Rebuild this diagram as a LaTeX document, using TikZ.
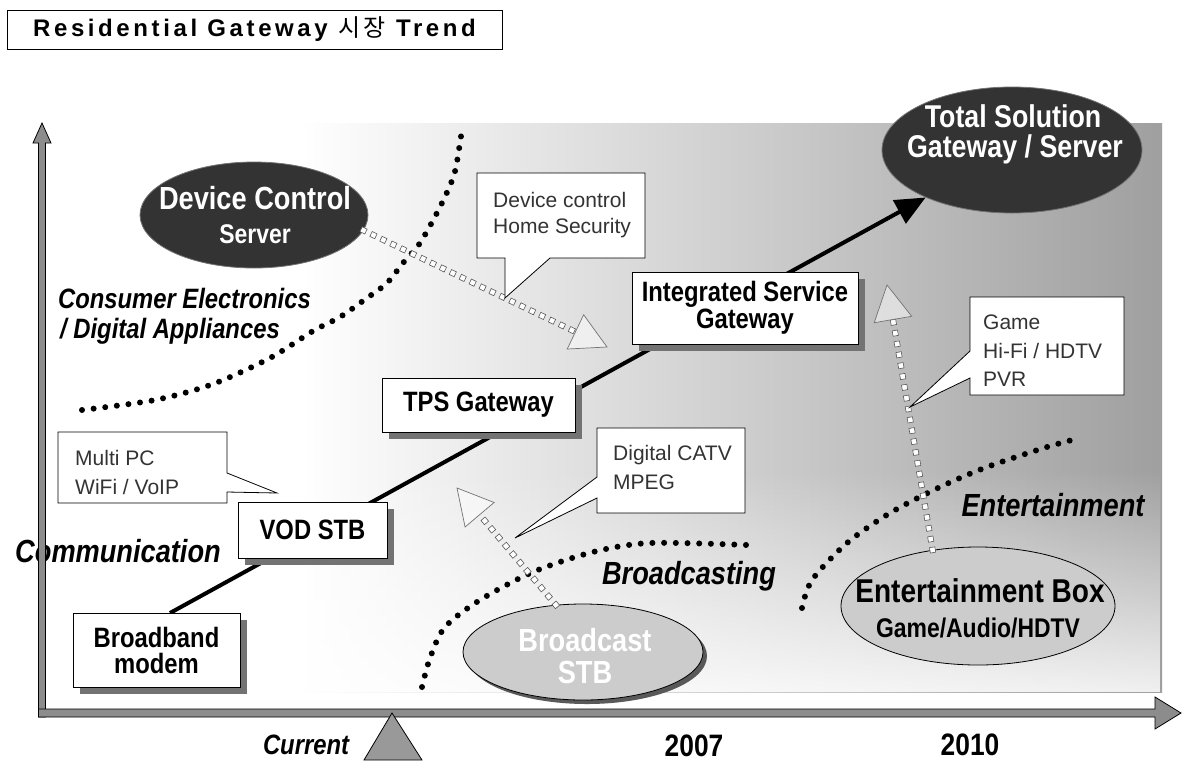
\documentclass[tikz,border=0pt]{standalone}
\usepackage{fontspec}
\setmainfont{Liberation Sans}
\newfontfamily\cond[FakeStretch=0.85]{Liberation Sans}
\newfontfamily\ttlfont[LetterSpace=15]{Liberation Sans}
\newfontfamily\krfont[LetterSpace=15]{Noto Sans CJK KR}
\usetikzlibrary{calc,shapes.geometric,arrows.meta,decorations.markings,shadows,fadings}
\tikzfading[name=fadeup, top color=transparent!100, bottom color=transparent!0]
\newcommand{\sqarrow}[2]{%
  \path (#1) coordinate (sqs) (#2) coordinate (sqt);
  \coordinate (sqb) at ($(sqt)!35pt!(sqs)$);
  \path[sqline] (sqs) -- (sqb);
  \draw[sqhead] (sqt) -- ($(sqb)!19pt!90:(sqt)$) -- ($(sqb)!19pt!-90:(sqt)$) -- cycle;
}
\begin{document}
\begin{tikzpicture}[x=1pt,y=-1pt,
  stagebox/.style={draw=black, line width=1pt, fill=white, inner sep=0pt, align=center,
    font={\cond\bfseries\fontsize{28}{27}\selectfont},
    drop shadow={shadow xshift=7pt, shadow yshift=-7pt, fill=black!55, opacity=1}},
  darkell/.style={ellipse, draw=black!55, line width=0.8pt, fill=black!80, inner sep=0pt},
  lightell/.style={ellipse, draw=black, line width=0.8pt, fill=black!20, inner sep=0pt},
  wtext/.style={text=white, inner sep=0pt, font={\cond\bfseries\fontsize{32}{34}\selectfont}},
  btext/.style={text=black, inner sep=0pt, font={\cond\bfseries\fontsize{32}{34}\selectfont}},
  lbl/.style={inner sep=0pt, font={\cond\bfseries\itshape\fontsize{32}{34}\selectfont}},
  yearlbl/.style={inner sep=0pt, font={\cond\bfseries\fontsize{31}{33}\selectfont}},
  dotline/.style={line width=6pt, line cap=round, dash pattern=on 0pt off 11.7pt, black},
  callout/.style={draw=black, line width=0.8pt, fill=white, line join=miter},
  ctext/.style={font={\fontsize{21}{27.5}\selectfont}, text=black!80, align=left, inner sep=0pt, anchor=west},
  sqline/.style={postaction={decorate}, decoration={markings,
     mark=between positions 0 and 1 step 11pt with {\draw[black!65, fill=white, line width=0.6pt] (-2.7pt,-2.7pt) rectangle (2.7pt,2.7pt);}}},
  sqhead/.style={draw=black!55, fill=white, fill opacity=0.5, line width=0.7pt},
  axis/.style={fill=black!45, draw=black, line width=0.8pt, line join=miter}
]
\useasboundingbox (0,0) rectangle (1183,764);
\fill[white] (0,0) rectangle (1183,764);

% textured background (approximated by shading)
\shade[left color=white, right color=gray!75] (300,123) rectangle (1162,692);
\fill[white, path fading=fadeup, opacity=0.85] (300,470) rectangle (1162,692);

% title
\node[draw, line width=0.8pt, minimum width=495pt, minimum height=39pt, inner sep=0pt,
      font={\ttlfont\bfseries\fontsize{24}{26}\selectfont}] (title) at (254.5,29.5)
      {Residential Gateway {\krfont\mdseries 시장} Trend};

% dotted boundaries
\draw[dotline] plot[smooth] coordinates {(82,410) (155,400) (213,384) (270,358) (313,331) (340,317) (367,298) (387,283) (403,263) (420,243) (440,207) (454,175) (460,143) (462,128)};
\draw[dotline] plot[smooth] coordinates {(422,687) (430,658) (445,627) (480,600) (533,572) (593,552) (650,543) (747,545)};
\draw[dotline] plot[smooth] coordinates {(802,608) (812,580) (847,543) (890,513) (940,487) (987,467) (1047,447) (1080,438)};

% region labels
\node[lbl, anchor=west, font={\cond\bfseries\itshape\fontsize{28}{30}\selectfont}] (ce) at (58,298) {Consumer Electronics};
\node[lbl, anchor=west, font={\cond\bfseries\itshape\fontsize{28}{30}\selectfont}] (da) at (60,331) {/ Digital Appliances};
\node[lbl] (comm) at (118,551) {Communication};
\node[lbl] (bcast) at (689,576) {Broadcasting};
\node[lbl] (ent) at (1053,505) {Entertainment};

% axes
\path[axis] (38.5,717) -- (38.5,143) -- (33,143) -- (42,123) -- (51,143) -- (45.5,143) -- (45.5,717) -- cycle;
\path[axis] (38.5,709) -- (1155,709) -- (1155,697) -- (1181,713) -- (1155,729) -- (1155,717) -- (38.5,717) -- cycle;
\filldraw[fill=black!40, draw=black, line width=0.8pt] (392,713) -- (422,760) -- (364,760) -- cycle;
\node[lbl, font={\cond\bfseries\itshape\fontsize{28}{30}\selectfont}] (cur) at (306,745) {Current};
\node[yearlbl] (y2007) at (694,746) {2007};
\node[yearlbl] (y2010) at (970,745) {2010};

% ellipses
\node[darkell, minimum width=228pt, minimum height=106pt] (DCS) at (254,215) {};
\node[wtext] (DCSa) at (255,198) {Device Control};
\node[wtext, font={\cond\bfseries\fontsize{27}{29}\selectfont}] (DCSb) at (255,234) {Server};

\node[darkell, minimum width=260pt, minimum height=126pt] (TSG) at (1012,150) {};
\node[wtext, font={\cond\bfseries\fontsize{31.5}{33}\selectfont}] (TSGa) at (1013,116) {Total Solution};
\node[wtext, font={\cond\bfseries\fontsize{31.5}{33}\selectfont}] (TSGb) at (1015,149) {Gateway / Server};

\node[lightell, minimum width=240pt, minimum height=96pt,
      drop shadow={shadow xshift=4pt, shadow yshift=-4pt, fill=black!65, opacity=1}] (BSTB) at (583,652) {};
\node[wtext] (BSTBa) at (585,640) {Broadcast};
\node[wtext] (BSTBb) at (585,672) {STB};

\node[lightell, minimum width=274pt, minimum height=118pt] (EB) at (978,606) {};
\node[btext, font={\cond\bfseries\fontsize{33}{35}\selectfont}] (EBa) at (980,591) {Entertainment Box};
\node[btext, font={\cond\bfseries\fontsize{27}{29}\selectfont}] (EBb) at (978,628) {Game/Audio/HDTV};

% square-dotted arrows
\coordinate (tipA) at (607,347);
\coordinate (tipB) at (457,488);
\coordinate (tipC) at (887,285);
\sqarrow{DCS.-8}{tipA}
\sqarrow{BSTB.120}{tipB}
\sqarrow{EB.129.6}{tipC}

% callouts
\path[callout] (477,173) -- (645,173) -- (645,258) -- (550,258) -- (505,298) -- (505,258) -- (477,258) -- cycle;
\node[ctext, font={\fontsize{21}{26}\selectfont}] (c1) at (493,215) {Device control\\Home Security};
\path[callout] (58,432) -- (227,432) -- (227,473) -- (277,493) -- (227,492) -- (227,503) -- (58,503) -- cycle;
\node[ctext, font={\fontsize{21}{29}\selectfont}] (c2) at (75,472.5) {Multi PC\\WiFi / VoIP};
\path[callout] (597,428) -- (745,428) -- (745,513) -- (597,513) -- (597,498) -- (515,538) -- (597,477) -- cycle;
\node[ctext, font={\fontsize{21}{29}\selectfont}] (c3) at (613,467.5) {Digital CATV\\MPEG};
\path[callout] (970,297) -- (1124,297) -- (1124,395) -- (970,395) -- (970,378) -- (910,407) -- (970,351) -- cycle;
\node[ctext, font={\fontsize{21}{28.5}\selectfont}] (c4) at (983,351) {Game\\Hi-Fi / HDTV\\PVR};

% main trend line
\coordinate (lstart) at (170,613);
\draw[line width=4pt, -{Triangle[length=30pt, width=26pt]}] (lstart) -- (TSG);

% stage boxes
\node[stagebox, minimum width=167pt, minimum height=74pt, font={\cond\bfseries\fontsize{28}{26}\selectfont}] (BB) at (156.5,650) {Broadband\\modem};
\node[stagebox, minimum width=149pt, minimum height=56pt] (VOD) at (312.5,530) {VOD STB};
\node[stagebox, minimum width=193pt, minimum height=54pt] (TPS) at (478.5,405) {TPS Gateway};
\node[stagebox, minimum width=226pt, minimum height=72pt] (ISG) at (745,308) {Integrated Service\\Gateway};
\end{tikzpicture}
\end{document}
